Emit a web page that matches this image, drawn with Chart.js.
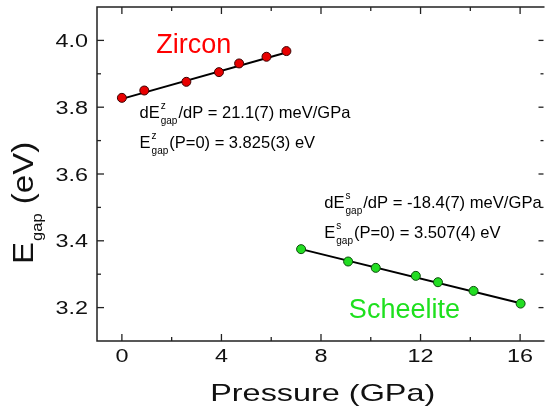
<!DOCTYPE html>
<html>
<head>
<meta charset="utf-8">
<script src="https://cdn.jsdelivr.net/npm/chart.js@4.4.0/dist/chart.umd.min.js"></script>
<style>
  html, body { margin: 0; padding: 0; background: #fff; }
  #wrap { width: 548px; height: 414px; }
</style>
</head>
<body>
<div id="wrap"><canvas id="chart" width="548" height="414"></canvas></div>
<script>
// values
const zirconP = [0, 0.90, 2.59, 3.90, 4.71, 5.81, 6.61];
const zirconE = [3.828, 3.850, 3.876, 3.905, 3.931, 3.951, 3.968];
const scheeliteP = [7.20, 9.09, 10.20, 11.81, 12.70, 14.13, 16.02];
const scheeliteE = [3.375, 3.338, 3.319, 3.295, 3.276, 3.250, 3.212];

// linear fits (end points of the drawn lines)
const zirconFitP = [0, 6.61];
const zirconFitE = [3.825, 3.964];
const scheeliteFitP = [7.20, 16.02];
const scheeliteFitE = [3.375, 3.213];

const xTicks = [0, 4, 8, 12, 16];
const xMinor = [2, 6, 10, 14];
const yTicks = [3.2, 3.4, 3.6, 3.8, 4.0];
const yMinor = [3.3, 3.5, 3.7, 3.9];

const FONT = '"Liberation Sans", Arial, sans-serif';
const toPts = (xs, ys) => xs.map((x, i) => ({ x: x, y: ys[i] }));

// text drawn with a stretch factor along the baseline
function stretchText(ctx, text, x, y, size, sx, align) {
  ctx.save();
  ctx.font = size + 'px ' + FONT;
  ctx.textBaseline = 'alphabetic';
  const w = ctx.measureText(text).width * sx;
  let x0 = x;
  if (align === 'center') x0 = x - w / 2;
  if (align === 'right') x0 = x - w;
  ctx.translate(x0, y);
  ctx.scale(sx, 1);
  ctx.textAlign = 'left';
  ctx.fillText(text, 0, 0);
  ctx.restore();
}

// text with stacked super/subscripts: parts are strings or {sup, sub}
function richText(ctx, x, y, parts, size) {
  ctx.save();
  ctx.textBaseline = 'alphabetic';
  ctx.textAlign = 'left';
  ctx.fillStyle = '#000';
  let cx = x;
  const small = Math.round(size * 0.62);
  parts.forEach(p => {
    if (typeof p === 'string') {
      ctx.font = size + 'px ' + FONT;
      ctx.fillText(p, cx, y);
      cx += ctx.measureText(p).width;
    } else {
      ctx.font = small + 'px ' + FONT;
      ctx.fillText(p.sup, cx + 1, y - size * 0.55);
      ctx.fillText(p.sub, cx + 1, y + size * 0.35);
      cx += Math.max(ctx.measureText(p.sup).width, ctx.measureText(p.sub).width) + 2;
    }
  });
  ctx.restore();
}

const framePlugin = {
  id: 'frame',
  afterDraw(chart) {
    const ctx = chart.ctx;
    const a = chart.chartArea;
    const xs = chart.scales.x, ys = chart.scales.y;
    ctx.save();
    ctx.strokeStyle = '#222';
    ctx.lineWidth = 1.5;
    // left, bottom and top lines (right edge falls off the picture)
    ctx.beginPath();
    ctx.moveTo(a.right + 2, a.top);
    ctx.lineTo(a.left, a.top);
    ctx.lineTo(a.left, a.bottom);
    ctx.lineTo(a.right + 2, a.bottom);
    ctx.stroke();

    // inward ticks on all four sides
    ctx.lineWidth = 1.3;
    const tick = (x1, y1, x2, y2) => { ctx.beginPath(); ctx.moveTo(x1, y1); ctx.lineTo(x2, y2); ctx.stroke(); };
    xTicks.forEach(v => { const p = xs.getPixelForValue(v); tick(p, a.bottom, p, a.bottom - 7); tick(p, a.top, p, a.top + 7); });
    xMinor.forEach(v => { const p = xs.getPixelForValue(v); tick(p, a.bottom, p, a.bottom - 4); tick(p, a.top, p, a.top + 4); });
    yTicks.forEach(v => { const p = ys.getPixelForValue(v); tick(a.left, p, a.left + 7, p); tick(a.right + 1, p, a.right - 4, p); });
    yMinor.forEach(v => { const p = ys.getPixelForValue(v); tick(a.left, p, a.left + 4, p); tick(a.right + 1, p, a.right - 2, p); });

    // tick labels
    ctx.fillStyle = '#111';
    xTicks.forEach(v => stretchText(ctx, String(v), xs.getPixelForValue(v), a.bottom + 21, 18, 1.3, 'center'));
    yTicks.forEach(v => stretchText(ctx, v.toFixed(1), a.left - 9, ys.getPixelForValue(v) + 6.5, 18, 1.3, 'right'));

    // axis titles
    stretchText(ctx, 'Pressure (GPa)', (a.left + a.right) / 2 + 3, 401, 24, 1.35, 'center');
    ctx.save();
    ctx.translate(33, 264);
    ctx.rotate(-Math.PI / 2);
    ctx.scale(1.1, 1);
    ctx.font = '30px ' + FONT;
    ctx.fillText('E', 0, 0);
    let w = ctx.measureText('E').width;
    ctx.font = '15px ' + FONT;
    ctx.fillText('gap', w + 1, 9);
    w += ctx.measureText('gap').width + 1;
    ctx.font = '30px ' + FONT;
    ctx.fillText(' (eV)', w, 0);
    ctx.restore();

    // labels and fit results
    ctx.font = '27px ' + FONT;
    ctx.fillStyle = '#ff0000';
    ctx.fillText('Zircon', xs.getPixelForValue(1.38), ys.getPixelForValue(3.962));
    ctx.fillStyle = '#1ee01e';
    ctx.fillText('Scheelite', xs.getPixelForValue(9.12), ys.getPixelForValue(3.168));

    richText(ctx, xs.getPixelForValue(0.71), ys.getPixelForValue(3.768),
      ['dE', { sup: 'z', sub: 'gap' }, '/dP = 21.1(7) meV/GPa'], 16.5);
    richText(ctx, xs.getPixelForValue(0.71), ys.getPixelForValue(3.678),
      ['E', { sup: 'z', sub: 'gap' }, '(P=0) = 3.825(3) eV'], 16.5);
    richText(ctx, xs.getPixelForValue(8.13), ys.getPixelForValue(3.498),
      ['dE', { sup: 's', sub: 'gap' }, '/dP = -18.4(7) meV/GPa'], 16.6);
    richText(ctx, xs.getPixelForValue(8.13), ys.getPixelForValue(3.408),
      ['E', { sup: 's', sub: 'gap' }, '(P=0) = 3.507(4) eV'], 16.6);
    ctx.restore();
  }
};

new Chart(document.getElementById('chart'), {
  type: 'scatter',
  data: {
    datasets: [
      {
        label: 'Zircon',
        data: toPts(zirconP, zirconE),
        pointRadius: 4.5,
        pointBackgroundColor: '#e80000',
        pointBorderColor: '#3a0000',
        pointBorderWidth: 1,
        order: 0
      },
      {
        label: 'Scheelite',
        data: toPts(scheeliteP, scheeliteE),
        pointRadius: 4.5,
        pointBackgroundColor: '#22dd22',
        pointBorderColor: '#0b4a0b',
        pointBorderWidth: 1,
        order: 0
      },
      {
        label: 'Zircon fit',
        data: toPts(zirconFitP, zirconFitE),
        showLine: true,
        borderColor: '#000',
        borderWidth: 2,
        pointRadius: 0,
        order: 1
      },
      {
        label: 'Scheelite fit',
        data: toPts(scheeliteFitP, scheeliteFitE),
        showLine: true,
        borderColor: '#000',
        borderWidth: 2,
        pointRadius: 0,
        order: 1
      }
    ]
  },
  options: {
    responsive: false,
    animation: false,
    devicePixelRatio: 1,
    layout: { padding: { left: 97, top: 7, right: 0, bottom: 73 } },
    plugins: { legend: { display: false }, tooltip: { enabled: false } },
    scales: {
      x: {
        type: 'linear', min: -1, max: 16.9,
        ticks: { display: false },
        grid: { display: false, drawTicks: false },
        border: { display: false },
        afterFit: s => { s.height = 0; }
      },
      y: {
        type: 'linear', min: 3.1, max: 4.1,
        ticks: { display: false },
        grid: { display: false, drawTicks: false },
        border: { display: false },
        afterFit: s => { s.width = 0; }
      }
    }
  },
  plugins: [framePlugin]
});
</script>
</body>
</html>
